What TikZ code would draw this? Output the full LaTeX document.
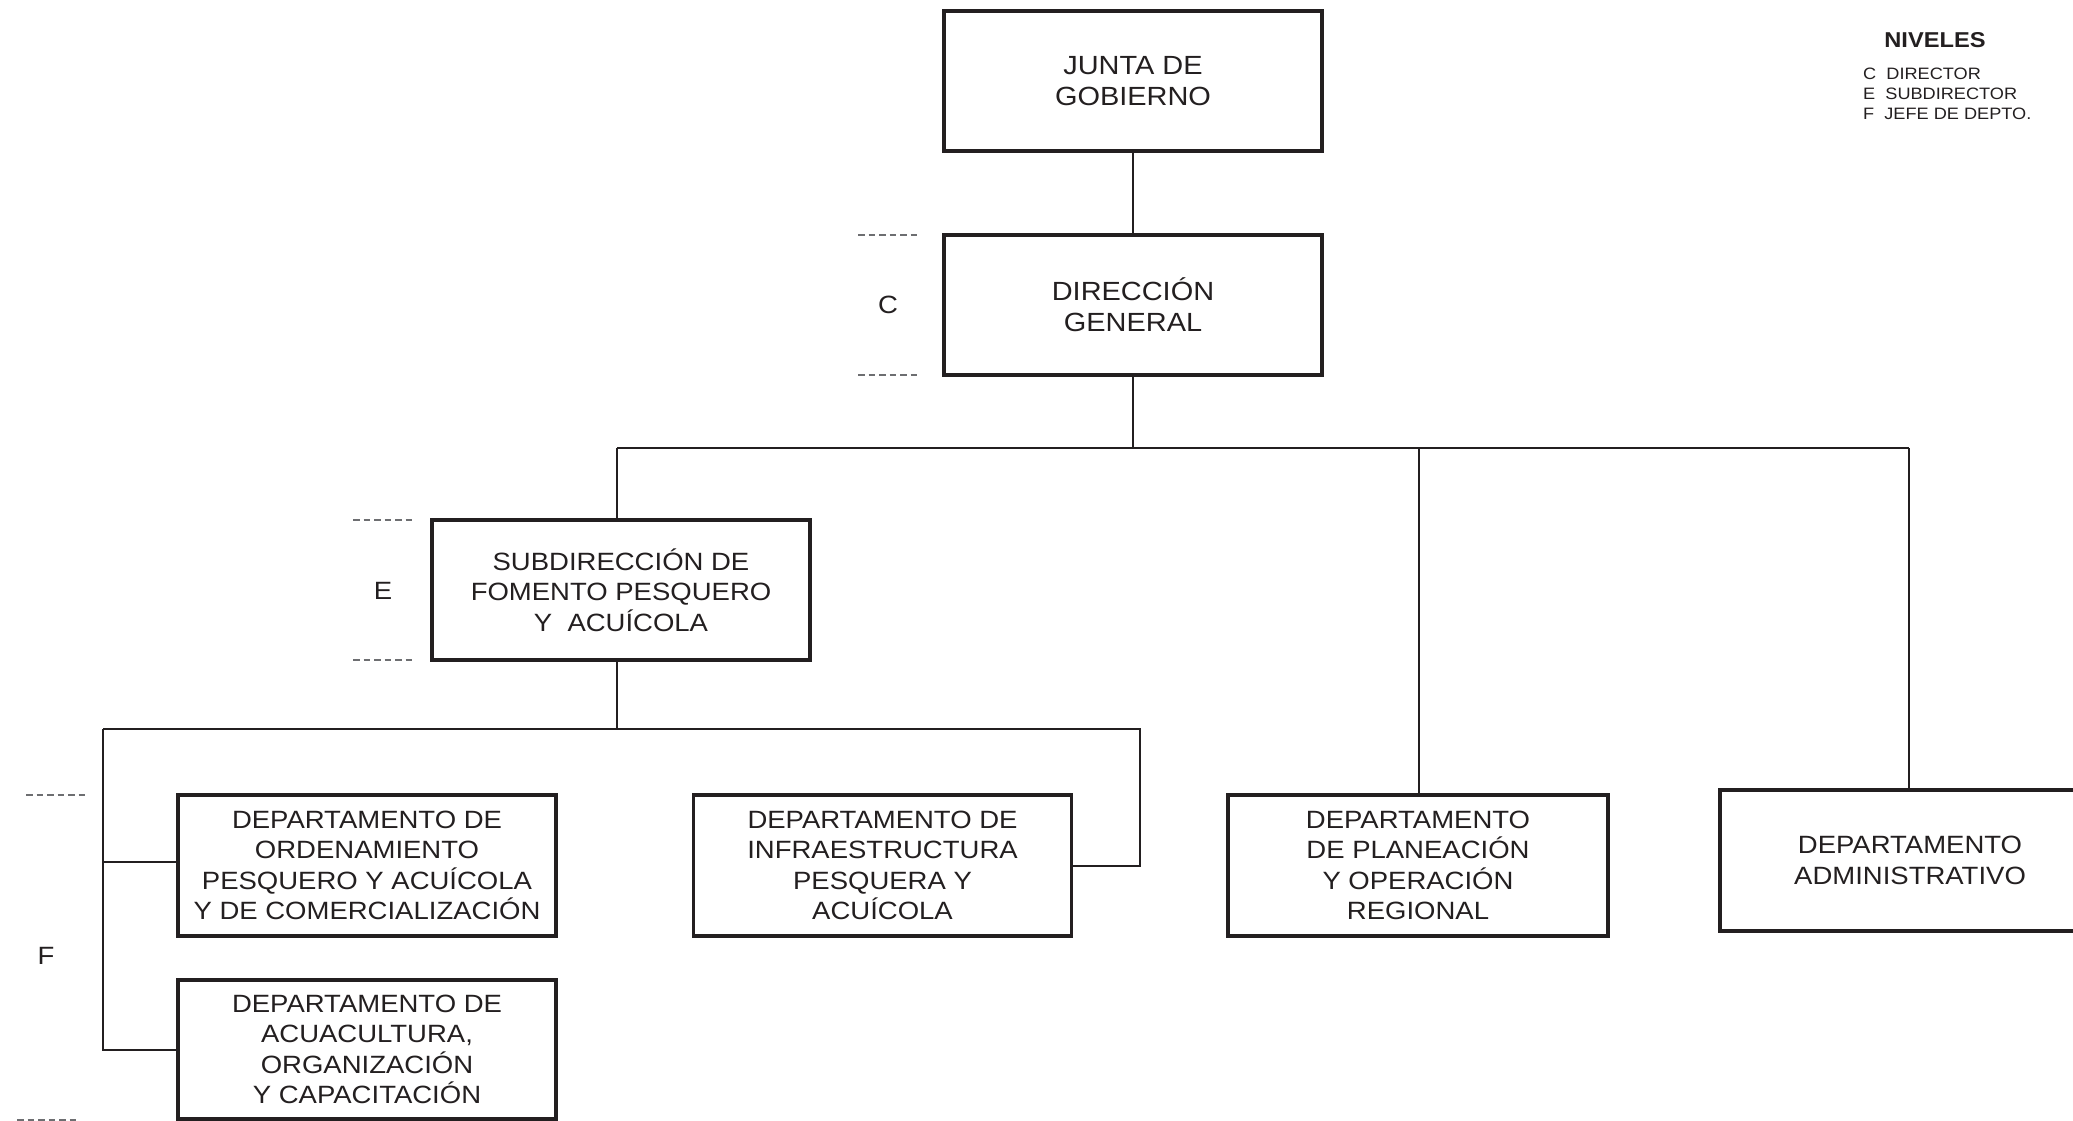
\documentclass[tikz,border=0pt]{standalone}
\usepackage{fontspec}
\setmainfont{Liberation Sans}[FakeStretch=1.1]
\definecolor{ink}{HTML}{231F20}
\definecolor{dashgray}{HTML}{6D6E71}
\newcommand\orgfont{\fontsize{25}{30.5}\selectfont}
\newcommand\topfont{\fontsize{26.3}{31}\selectfont}
\newcommand\legfont{\fontsize{16.5}{20}\selectfont}
\newcommand\legheadfont{\fontsize{21.5}{24}\selectfont\bfseries}
\begin{document}
\begin{tikzpicture}[x=1pt,y=-1pt,
  box/.style={draw=ink, line width=3.3pt, minimum width=378pt, minimum height=140pt,
    inner sep=0pt, align=center, text=ink, font=\orgfont},
  topbox/.style={box, font=\topfont},
  conn/.style={draw=ink, line width=2pt},
  lvl/.style={draw=dashgray, line width=1.3pt, dash pattern=on 6.5pt off 4pt},
  lvltext/.style={text=ink, font=\orgfont, inner sep=0pt},
  legtext/.style={text=ink, font=\legfont, inner sep=0pt, anchor=base west},
  leghead/.style={text=ink, font=\legheadfont, inner sep=0pt, anchor=base}]
\useasboundingbox (0,0) rectangle (2073,1121);

% boxes
\node[topbox] (junta) at (1133,81) {JUNTA DE\\GOBIERNO};
\node[topbox] (dir) at (1133,305) {DIRECCIÓN\\GENERAL};
\node[box] (sub) at (621,590) {SUBDIRECCIÓN DE\\FOMENTO PESQUERO\\Y\ \ ACUÍCOLA};
\node[box, minimum height=141pt] (ord) at (367,865.5) {DEPARTAMENTO DE\\ORDENAMIENTO\\PESQUERO Y ACUÍCOLA\\Y DE COMERCIALIZACIÓN};
\node[box, minimum height=139pt] (acu) at (367,1049.5) {DEPARTAMENTO DE\\ACUACULTURA,\\ORGANIZACIÓN\\Y CAPACITACIÓN};
\node[box, minimum height=141pt] (inf) at (882.5,865.5) {DEPARTAMENTO DE\\INFRAESTRUCTURA\\PESQUERA Y\\ACUÍCOLA};
\node[box, minimum width=380pt, minimum height=141pt] (pla) at (1418,865.5) {DEPARTAMENTO\\DE PLANEACIÓN\\Y OPERACIÓN\\REGIONAL};
\node[box, minimum width=380pt, minimum height=141pt] (adm) at (1910,860.5) {DEPARTAMENTO\\ADMINISTRATIVO};

% bus coordinates
\coordinate (b1) at (1133,448);
\coordinate (b1l) at (617,448);
\coordinate (b1m) at (1419,448);
\coordinate (b1r) at (1909,448);
\coordinate (b2) at (617,728.5);
\coordinate (b2l) at (103,728.5);
\coordinate (b2r) at (1140,728.5);

% connectors
\draw[conn] (junta.south) -- (dir.north);
\draw[conn] (dir.south) -- (b1);
\draw[conn] (b1l) -- (b1r);
\draw[conn] (b1l) -- (b1l |- sub.north);
\draw[conn] (b1m) -- (b1m |- pla.north);
\draw[conn] (b1r) -- (b1r |- adm.north);
\draw[conn] (b2 |- sub.south) -- (b2);
\draw[conn] (b2l) -- (b2r) -- (b2r |- inf.east) -- (inf.east);
\draw[conn] (b2l) |- (acu.west);
\draw[conn] (b2l |- 0,862) -- ([yshift=3.5pt]ord.west);

% level marks
\draw[lvl] (858,235) -- (918,235);
\draw[lvl] (858,375) -- (918,375);
\node[lvltext] (lc) at (888,305) {C};
\draw[lvl] (353,520) -- (413,520);
\draw[lvl] (353,660) -- (413,660);
\node[lvltext] (le) at (383,591) {E};
\draw[lvl] (26,795) -- (86,795);
\draw[lvl] (17,1120) -- (77,1120);
\node[lvltext] (lf) at (46,956) {F};

% legend
\node[leghead] (niv) at (1935,47.5) {NIVELES};
\node[legtext] (l1) at (1863,80) {C\ \ DIRECTOR};
\node[legtext] (l2) at (1863,100) {E\ \ SUBDIRECTOR};
\node[legtext] (l3) at (1863,119.5) {F\ \ JEFE DE DEPTO.};
\end{tikzpicture}
\end{document}
